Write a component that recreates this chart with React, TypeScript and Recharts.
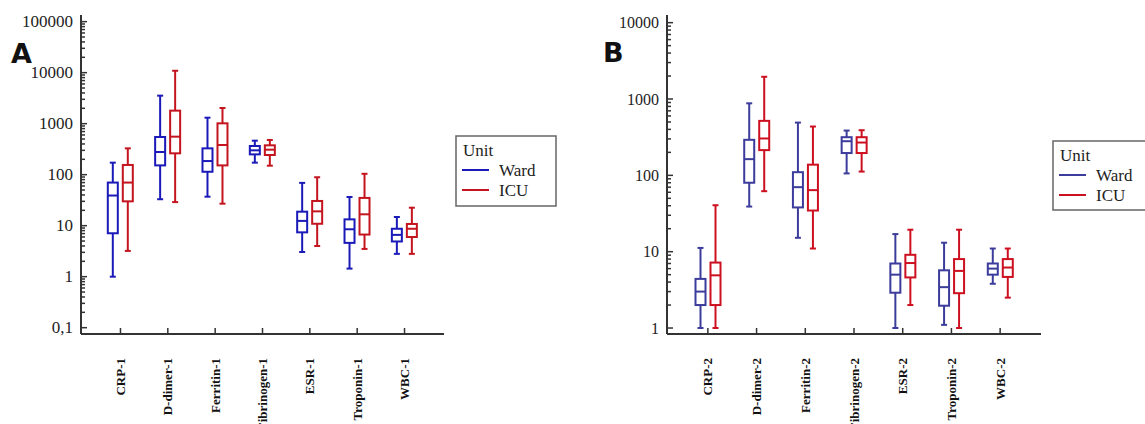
import React from 'react';
import { ComposedChart, Bar, XAxis, YAxis, Legend } from 'recharts';

// ---------- data ----------
const categoriesA = ['CRP-1', 'D-dimer-1', 'Ferritin-1', 'Fibrinogen-1', 'ESR-1', 'Troponin-1', 'WBC-1'];
const categoriesB = ['CRP-2', 'D-dimer-2', 'Ferritin-2', 'Fibrinogen-2', 'ESR-2', 'Troponin-2', 'WBC-2'];

// [low whisker, Q1, median, Q3, high whisker]
const wardA = [
  [1.0, 7.1, 39, 70, 172],
  [33, 152, 278, 548, 3540],
  [37, 114, 185, 328, 1310],
  [172, 250, 300, 365, 464],
  [3.05, 7.4, 12.4, 18.8, 69],
  [1.44, 4.6, 8.5, 13.3, 36.5],
  [2.8, 4.9, 6.6, 8.7, 14.8],
];
const icuA = [
  [3.2, 30, 70, 155, 328],
  [29, 262, 556, 1800, 10900],
  [27, 152, 382, 1015, 2030],
  [150, 243, 309, 376, 479],
  [4.0, 10.9, 19.1, 30.5, 89],
  [3.5, 6.7, 16.7, 35, 104],
  [2.8, 6.0, 8.7, 10.8, 22.5],
];
const wardB = [
  [1.0, 2.0, 3.0, 4.4, 11.2],
  [39, 80, 163, 292, 878],
  [15.2, 38, 70, 110, 491],
  [106, 196, 280, 316, 386],
  [1.0, 2.9, 5.0, 7.0, 17],
  [1.1, 1.96, 3.43, 5.7, 13.1],
  [3.8, 5.0, 6.0, 7.0, 11.0],
];
const icuB = [
  [1.0, 2.0, 4.9, 7.2, 40.6],
  [62, 214, 304, 517, 1955],
  [11, 34.6, 64, 138, 436],
  [112, 196, 269, 316, 390],
  [2.0, 4.6, 7.1, 9.1, 19.4],
  [1.0, 2.86, 5.6, 8.0, 19.4],
  [2.5, 4.67, 6.2, 8.0, 11.0],
];

const yTicksA = [0.1, 1, 10, 100, 1000, 10000, 100000];
const yTickLabelsA = ['0,1', '1', '10', '100', '1000', '10000', '100000'];
const yTicksB = [1, 10, 100, 1000, 10000];
const yTickLabelsB = ['1', '10', '100', '1000', '10000'];

const legendTitle = 'Unit';
const unitNames = ['Ward', 'ICU'];

// ---------- helpers ----------
const buildRows = (cats: string[], ward: number[][], icu: number[][]) =>
  cats.map((cat, i) => ({
    cat,
    wWhisk: [ward[i][0], ward[i][4]],
    wBox: [ward[i][1], ward[i][3]],
    wMed: [ward[i][1], ward[i][2]],
    iWhisk: [icu[i][0], icu[i][4]],
    iBox: [icu[i][1], icu[i][3]],
    iMed: [icu[i][1], icu[i][2]],
  }));

const withMinor = (majors: number[]) => {
  const out: number[] = [];
  majors.forEach((m, idx) => {
    out.push(m);
    if (idx < majors.length - 1) for (let k = 2; k <= 9; k++) out.push(+(m * k).toPrecision(6));
  });
  return out;
};

const rowsA = buildRows(categoriesA, wardA, icuA);
const rowsB = buildRows(categoriesB, wardB, icuB);

const AXIS = '#333';
const SERIF = '"Liberation Serif", "Times New Roman", serif';

const norm = (p: any) => {
  const y = Math.min(p.y, p.y + p.height);
  const h = Math.abs(p.height);
  return { x: p.x, y, w: p.width, h };
};

const whiskerShape = (color: string) => (p: any) => {
  const { x, y, w, h } = norm(p);
  const cx = x + w / 2;
  return (
    <g>
      <line x1={cx} x2={cx} y1={y} y2={y + h} stroke={color} strokeWidth={2} />
      <line x1={cx - 3} x2={cx + 3} y1={y} y2={y} stroke={color} strokeWidth={2} />
      <line x1={cx - 3} x2={cx + 3} y1={y + h} y2={y + h} stroke={color} strokeWidth={2} />
    </g>
  );
};

const boxShape = (color: string) => (p: any) => {
  const { x, y, w, h } = norm(p);
  return <rect x={x + 1} y={y} width={w - 2} height={h} fill="#fff" stroke={color} strokeWidth={2} />;
};

const medianShape = (color: string) => (p: any) => {
  const { x, y, w } = norm(p);
  return <line x1={x + 1} x2={x + w - 1} y1={y} y2={y} stroke={color} strokeWidth={2} />;
};

const makeYTick = (majors: number[], labels: string[], fontSize: number) => (props: any) => {
  const { x, y, payload } = props;
  const idx = majors.findIndex((m) => Math.abs(m - payload.value) < 1e-9 * Math.max(1, m));
  const major = idx >= 0;
  return (
    <g>
      <line x1={x} x2={x + (major ? 6 : 4)} y1={y} y2={y} stroke={AXIS} strokeWidth={1.5} />
      {major && (
        <text x={x - 8} y={y} textAnchor="end" dominantBaseline="central" fontFamily={SERIF} fontSize={fontSize} fill="#222">
          {labels[idx]}
        </text>
      )}
    </g>
  );
};

const XTick = (props: any) => {
  const { x, y, payload } = props;
  return (
    <g>
      <line x1={x} x2={x} y1={y} y2={y - 6} stroke={AXIS} strokeWidth={1.5} />
      <text
        transform={`translate(${x}, ${y + 24}) rotate(-90)`}
        textAnchor="end"
        dominantBaseline="central"
        fontFamily={SERIF}
        fontWeight="bold"
        fontSize={13}
        fill="#111"
      >
        {payload.value}
      </text>
    </g>
  );
};

const makeLegend = (wardColor: string, icuColor: string, h: number) => () => (
  <svg width={104} height={h + 3} style={{ display: 'block' }}>
    <rect x={1} y={1} width={100} height={h} fill="#fff" stroke="#666" strokeWidth={1.5} />
    <text x={8} y={21} fontFamily={SERIF} fontSize={17} fill="#222">{legendTitle}</text>
    <line x1={7} x2={34} y1={35} y2={35} stroke={wardColor} strokeWidth={2} />
    <text x={44} y={41} fontFamily={SERIF} fontSize={17} fill="#222">{unitNames[0]}</text>
    <line x1={7} x2={34} y1={55} y2={55} stroke={icuColor} strokeWidth={2} />
    <text x={44} y={61} fontFamily={SERIF} fontSize={17} fill="#222">{unitNames[1]}</text>
  </svg>
);

type PanelProps = {
  rows: any[];
  width: number;
  marginRight: number;
  yWidth: number;
  domain: [number, number];
  majors: number[];
  labels: string[];
  fontSize: number;
  pad: number;
  ward: string;
  icu: string;
  legendPos: { left: number; top: number };
  legendH: number;
};

const Panel = (p: PanelProps) => (
  <ComposedChart
    width={p.width}
    height={424}
    data={p.rows}
    margin={{ top: 15, right: p.marginRight, bottom: 0, left: 0 }}
    barSize={12}
    barGap={3}
  >
    <XAxis
      xAxisId="w"
      dataKey="cat"
      type="category"
      height={90}
      padding={{ left: p.pad, right: p.pad }}
      interval={0}
      tickSize={0}
      tickMargin={0}
      tickLine={false}
      axisLine={{ stroke: AXIS, strokeWidth: 2 }}
      tick={XTick}
    />
    <XAxis xAxisId="b" dataKey="cat" type="category" hide orientation="top" height={0} padding={{ left: p.pad, right: p.pad }} />
    <XAxis xAxisId="m" dataKey="cat" type="category" hide orientation="top" height={0} padding={{ left: p.pad, right: p.pad }} />
    <YAxis
      type="number"
      scale="log"
      domain={p.domain}
      allowDataOverflow
      ticks={withMinor(p.majors)}
      interval={0}
      width={p.yWidth}
      tickSize={0}
      tickMargin={0}
      tickLine={false}
      axisLine={{ stroke: AXIS, strokeWidth: 2 }}
      tick={makeYTick(p.majors, p.labels, p.fontSize)}
    />
    <Bar xAxisId="w" dataKey="wWhisk" name="Ward" fill={p.ward} shape={whiskerShape(p.ward)} isAnimationActive={false} />
    <Bar xAxisId="w" dataKey="iWhisk" name="ICU" fill={p.icu} shape={whiskerShape(p.icu)} isAnimationActive={false} />
    <Bar xAxisId="b" dataKey="wBox" fill={p.ward} shape={boxShape(p.ward)} isAnimationActive={false} legendType="none" />
    <Bar xAxisId="b" dataKey="iBox" fill={p.icu} shape={boxShape(p.icu)} isAnimationActive={false} legendType="none" />
    <Bar xAxisId="m" dataKey="wMed" fill={p.ward} shape={medianShape(p.ward)} isAnimationActive={false} legendType="none" />
    <Bar xAxisId="m" dataKey="iMed" fill={p.icu} shape={medianShape(p.icu)} isAnimationActive={false} legendType="none" />
    <Legend
      layout="vertical"
      align="center"
      verticalAlign="middle"
      content={makeLegend(p.ward, p.icu, p.legendH)}
      wrapperStyle={{ left: p.legendPos.left, top: p.legendPos.top, width: 104, height: p.legendH + 3 }}
    />
  </ComposedChart>
);

export default function App() {
  return (
    <div style={{ position: 'absolute', left: 0, top: 0, width: 1145, height: 424, overflow: 'hidden', background: '#fff' }}>
      <div style={{ position: 'absolute', left: 0, top: 0 }}>
        <Panel
          rows={rowsA}
          width={580}
          marginRight={136}
          yWidth={81}
          domain={[0.0752, 135000]}
          majors={yTicksA}
          labels={yTickLabelsA}
          fontSize={17}
          pad={15.8}
          ward="#1a1ab8"
          icu="#c4141e"
          legendPos={{ left: 455, top: 135 }}
          legendH={70}
        />
      </div>
      <div style={{ position: 'absolute', left: 580, top: 0 }}>
        <Panel
          rows={rowsB}
          width={565}
          marginRight={104}
          yWidth={87}
          domain={[0.835, 12600]}
          majors={yTicksB}
          labels={yTickLabelsB}
          fontSize={16}
          pad={16.5}
          ward="#3c3c9c"
          icu="#cc1020"
          legendPos={{ left: 472, top: 140 }}
          legendH={69}
        />
      </div>
      <svg width={1145} height={424} style={{ position: 'absolute', left: 0, top: 0, pointerEvents: 'none' }}>
        <text x={11} y={63} fontFamily='"DejaVu Sans", sans-serif' fontWeight="bold" fontSize={27} fill="#111">A</text>
        <text x={603} y={62} fontFamily='"DejaVu Sans", sans-serif' fontWeight="bold" fontSize={27} fill="#111">B</text>
      </svg>
    </div>
  );
}
